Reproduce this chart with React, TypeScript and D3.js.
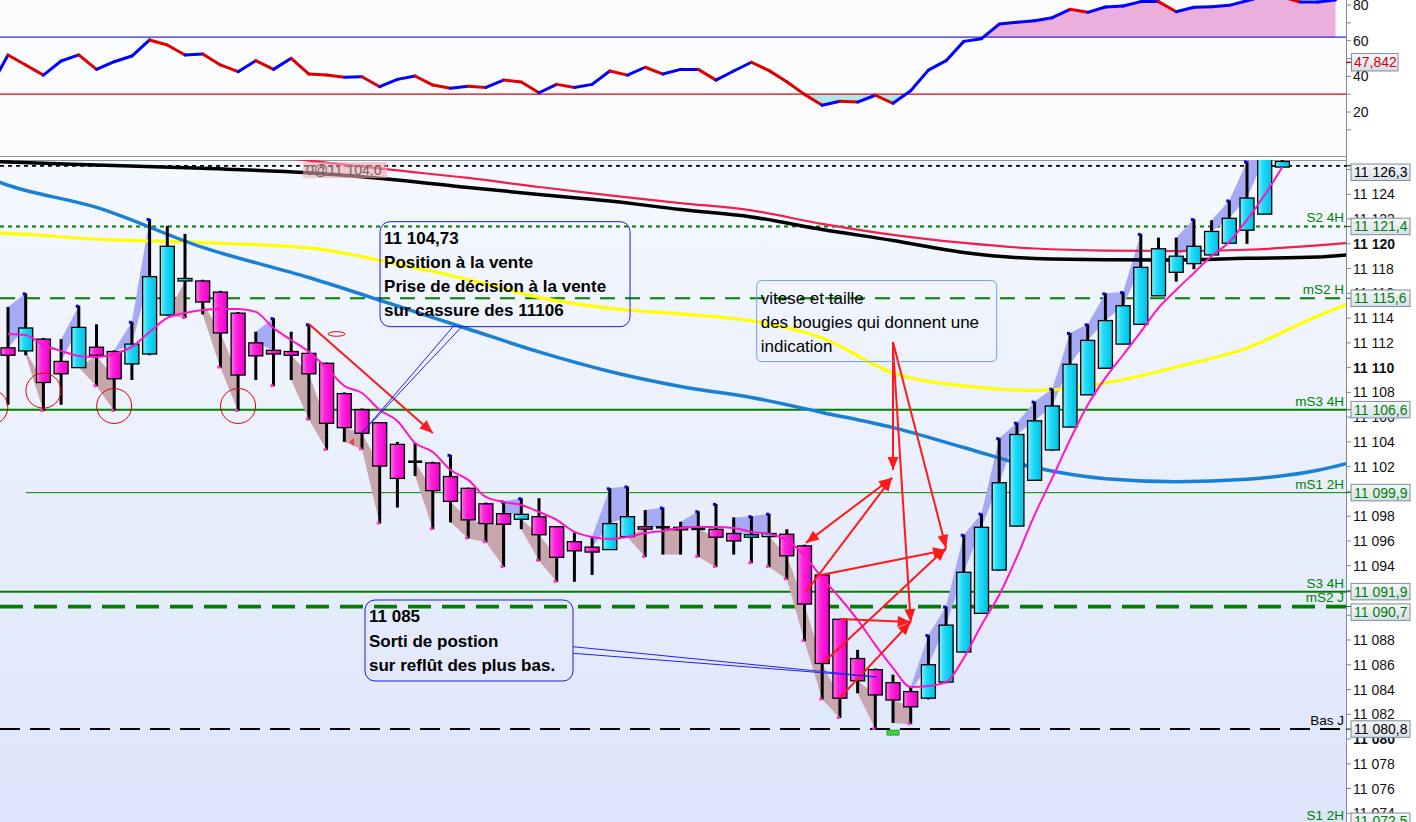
import React from "react";
import * as d3 from "d3";

// ---------------- DATA ----------------
const candleOpen = [
  11111.6, 11111.35, 11112.3, 11110.5, 11110.0, 11111.65, 11111.3, 11110.3, 11111.1, 11114.25,
  11117.0, 11117.0, 11116.1, 11114.4, 11112.0, 11111.4, 11111.3, 11111.15, 11110.35, 11107.9,
  11106.6, 11105.55, 11103.8, 11102.4, 11102.3, 11101.2, 11100.25, 11099.0, 11098.2, 11097.75,
  11097.96, 11097.15, 11095.94, 11095.5, 11095.3, 11096.35, 11097.15, 11097.1, 11097.1, 11096.97,
  11096.94, 11096.6, 11096.3, 11096.35, 11096.54, 11095.6, 11093.25, 11089.67, 11086.5, 11085.6,
  11084.55, 11083.83, 11083.3, 11084.6, 11087.03, 11090.15, 11093.65, 11097.2, 11100.9, 11103.35,
  11105.2, 11107.8, 11109.95, 11111.9, 11113.5, 11115.8, 11117.7, 11118.4, 11119.1, 11120.05,
  11121.1, 11122.4, 11126.2,
];
const candleHigh = [
  11114.9, 11116.0, 11112.4, 11112.3, 11115.0, 11113.5, 11111.4, 11113.7, 11122.0, 11121.45,
  11120.8, 11117.1, 11116.2, 11114.5, 11112.9, 11114.0, 11112.9, 11113.5, 11110.4, 11108.0,
  11106.7, 11105.6, 11104.0, 11103.9, 11102.4, 11102.95, 11100.3, 11099.1, 11099.2, 11099.45,
  11099.45, 11097.2, 11096.67, 11096.35, 11100.25, 11100.4, 11098.5, 11098.7, 11097.55, 11098.4,
  11098.99, 11097.9, 11098.0, 11098.2, 11096.94, 11095.7, 11093.3, 11089.7, 11087.2, 11085.7,
  11085.2, 11084.2, 11088.4, 11090.7, 11096.5, 11098.2, 11104.3, 11105.55, 11107.25, 11108.3,
  11112.8, 11113.5, 11116.0, 11116.1, 11120.8, 11120.5, 11120.5, 11122.0, 11121.9, 11123.5,
  11126.65, 11127.5, 11127.5,
];
const candleLow = [
  11107.0, 11111.0, 11106.5, 11107.0, 11110.0, 11108.5, 11106.5, 11109.0, 11111.0, 11114.2,
  11114.0, 11114.3, 11110.0, 11106.5, 11109.0, 11108.5, 11109.0, 11105.8, 11103.35, 11104.0,
  11103.4, 11097.4, 11098.7, 11101.25, 11096.95, 11097.5, 11096.2, 11095.9, 11093.9, 11096.95,
  11094.4, 11092.7, 11092.7, 11093.25, 11095.3, 11096.3, 11094.7, 11094.9, 11094.9, 11094.7,
  11093.9, 11094.9, 11094.2, 11093.9, 11092.9, 11087.9, 11083.2, 11081.7, 11083.7, 11080.8,
  11081.3, 11081.2, 11083.2, 11084.5, 11087.0, 11090.1, 11093.6, 11097.2, 11100.9, 11103.3,
  11105.2, 11107.8, 11109.9, 11111.9, 11113.5, 11115.8, 11116.95, 11117.95, 11119.1, 11120.0,
  11120.0, 11122.4, 11126.2,
];
const candleClose = [
  11111.0, 11113.2, 11108.8, 11109.5, 11113.25, 11111.0, 11109.1, 11111.9, 11117.35, 11119.8,
  11117.2, 11115.3, 11112.8, 11109.4, 11110.95, 11111.1, 11111.0, 11109.5, 11105.5, 11105.15,
  11104.7, 11102.05, 11101.05, 11102.4, 11100.06, 11099.2, 11097.7, 11097.4, 11097.35, 11098.15,
  11096.5, 11094.68, 11095.2, 11095.1, 11097.4, 11097.96, 11097.0, 11097.1, 11096.95, 11096.97,
  11096.3, 11096.0, 11096.5, 11096.6, 11094.8, 11090.9, 11086.1, 11083.3, 11084.7, 11083.56,
  11083.15, 11082.6, 11086.0, 11089.2, 11093.47, 11097.1, 11100.7, 11104.6, 11105.7, 11106.9,
  11110.27, 11112.2, 11113.8, 11115.0, 11118.1, 11119.6, 11119.0, 11119.8, 11121.0, 11122.06,
  11123.7, 11127.0, 11126.65,
];
// fast moving average (magenta), one value per candle
const fastMA = [
  11112.72, 11112.64, 11111.83, 11111.35, 11110.94, 11110.86, 11111.1, 11111.67, 11112.88, 11114.01,
  11114.42, 11114.66, 11114.74, 11114.74, 11114.5, 11113.2, 11112.23, 11111.27, 11109.97, 11108.52,
  11107.95, 11106.58, 11105.69, 11103.91, 11103.19, 11101.73, 11100.93, 11099.55, 11099.15, 11098.91,
  11098.34, 11097.7, 11096.73, 11096.32, 11096.16, 11096.32, 11096.64, 11096.81, 11097.05, 11097.13,
  11097.13, 11097.05, 11096.73, 11096.56, 11096.08, 11094.79, 11093.01, 11091.39, 11089.62, 11087.6,
  11085.74, 11084.2, 11084.28, 11084.6, 11086.55, 11089.21, 11091.64, 11094.71, 11098.1, 11101.09,
  11104.16, 11106.98, 11109.17, 11111.02, 11112.88, 11114.82, 11116.27, 11117.65, 11119.02, 11120.15,
  11121.93, 11123.95, 11126.21,
];
// slow moving averages, sampled at these candle indices
const maIndex = [-1, 0, 5, 11, 17, 22, 26, 30, 34, 38, 42, 46, 50, 54, 58, 62, 66, 70, 74, 76];
const maBlack = [11126.67, 11126.61, 11126.37, 11126.1, 11125.74, 11125.16, 11124.55, 11123.99, 11123.46, 11122.77, 11122.17, 11121.16, 11120.27, 11119.3, 11118.81, 11118.71, 11118.7, 11118.83, 11118.93, 11119.14];
const maRed = [11129.6, 11129.44, 11128.63, 11127.68, 11126.72, 11125.93, 11125.32, 11124.59, 11123.91, 11123.29, 11122.7, 11121.61, 11120.72, 11120.07, 11119.62, 11119.45, 11119.42, 11119.52, 11119.87, 11120.11];
const maYellow = [11120.88, 11120.84, 11120.38, 11120.09, 11119.67, 11118.37, 11117.12, 11115.67, 11114.78, 11114.34, 11113.77, 11112.4, 11109.57, 11108.52, 11108.15, 11108.76, 11110.05, 11111.59, 11114.17, 11115.3];
const maBlue = [11125.24, 11124.73, 11122.94, 11119.71, 11117.28, 11114.98, 11113.12, 11111.27, 11109.69, 11108.48, 11107.59, 11106.38, 11105.15, 11103.55, 11101.93, 11101.03, 11100.79, 11100.99, 11101.71, 11102.38];

// RSI, starting at candle index -1
const rsiStart = -1;
const rsiValues = [
  33.7,
  52.0, 46.4, 40.7, 48.6, 52.0, 43.9, 48.2, 51.4, 60.4, 57.6,
  52.0, 52.5, 46.4, 42.6, 48.8, 43.9, 50.1, 41.3, 40.7, 39.5,
  39.8, 34.2, 38.3, 40.2, 35.1, 33.3, 34.4, 33.8, 37.9, 36.8,
  30.8, 35.5, 33.8, 35.5, 43.0, 40.7, 45.1, 41.3, 43.9, 43.9,
  37.9, 43.0, 47.9, 43.2, 37.0, 29.9, 23.8, 26.0, 25.6, 29.4,
  24.9, 31.9, 43.5, 48.8, 59.6, 61.1, 69.3, 70.3, 71.2, 72.9,
  77.6, 75.9, 78.9, 79.4, 81.9, 81.9, 76.2, 78.7, 79.0, 79.8,
  82.4, 85.0, 84.5, 81.7, 81.7, 82.8,
];
const rsiLast = 47.842;
const rsiUpper = 62;
const rsiLower = 30;
const rsiTicks = [10, 20, 30, 40, 50, 60, 70, 80];
const rsiTickLabels = [20, 40, 60, 80];

// price axis
const priceTicks = d3.range(11074, 11128, 2);

// horizontal levels
const levelNames = ["", "S2 4H", "mS2 H", "mS3 4H", "mS1 2H", "S3 4H", "mS2 J", "Bas J", "S1 2H"];
const levelValues = [11126.3, 11121.4, 11115.6, 11106.6, 11099.9, 11091.9, 11090.7, 11080.8, 11072.5];
const levelStartIdx = [-2, -2, -2, -2, 1, -2, -2, -2, -2];

// annotations (anchored in candle index / price)
const noteSellLines = ["11 104,73", "Position à la vente", "Prise de décision à la vente", "sur cassure des 11106"];
const noteExitLines = ["11 085", "Sorti de postion", "sur reflût des plus bas."];
const noteSpeedLines = ["vitese et taille", "des bougies qui donnent une", "indication"];
const noteSellAnchor = [21.02, 11121.79];
const noteSellTarget = [19.98, 11104.7];
const noteExitAnchor = [20.17, 11091.23];
const noteExitTarget = [49.1, 11085.01];
const noteSpeedAnchor = [42.3, 11117.03];

const arrowFromIdx = [17.0, 50.0, 50.0, 50.0, 45.08, 45.08, 45.93, 46.05, 47.0, 47.0];
const arrowFromPrice = [11113.53, 11112.07, 11111.67, 11112.07, 11095.84, 11091.88, 11093.25, 11086.14, 11089.7, 11083.32];
const arrowToIdx = [24.0, 50.0, 51.0, 53.0, 49.94, 49.94, 53.0, 53.0, 51.0, 51.0];
const arrowToPrice = [11104.72, 11101.73, 11089.45, 11095.43, 11101.09, 11101.09, 11095.27, 11095.43, 11089.45, 11089.45];
const arrowBoth = [false, false, false, false, true, false, false, false, false, false];

const circleIdx = [-1, 2, 6, 13];
const circlePrice = [11106.8, 11108.14, 11106.9, 11106.9];

const positionTag = "0@11 104,0";
const positionTagAnchor = [16.67, 11126.6];
const lowMarkerIdx = 50;
const lowMarkerPrice = 11080.8;

const FONT = "'Liberation Sans', Arial, Helvetica, sans-serif";

export default function App() {
  const W = 1416;
  const H = 822;
  const plotR = 1346;
  const rsiBottom = 157;
  const mainTop = 160;

  const x = d3.scaleLinear().domain([0, 72]).range([8, 8 + 72 * 17.7]);
  const y = d3.scaleLinear().domain([11124, 11074]).range([194.3, 813.3]);
  const yr = d3.scaleLinear().domain([80, 0]).range([5, 147.7]);

  const loc = d3.formatLocale({ decimal: ",", thousands: " ", grouping: [3], currency: ["", ""] });
  const fmtTick = loc.format(",d");
  const fmtLevel = loc.format(",.1f");
  const fmtRsi = loc.format(".3f");

  const maPath = (vals: number[]) =>
    d3.line<number>().x((_, k) => x(maIndex[k])).y((v) => y(v)).curve(d3.curveMonotoneX)(vals) || "";
  const fastPath =
    d3.line<number>().x((_, i) => x(i)).y((v) => y(v)).curve(d3.curveMonotoneX)(fastMA) || "";

  const rsiX = (k: number) => x(k + rsiStart);
  const rsiArea = (lvl: number) =>
    d3.area<number>().x((_, k) => rsiX(k)).y0(yr(lvl)).y1((v) => yr(v))(rsiValues) || "";

  // level label boxes with collision avoidance
  const order = levelValues.map((v, i) => ({ i, cy: y(v), top: 0 })).sort((a, b) => a.cy - b.cy);
  let prevBottom = -Infinity;
  order.forEach((b) => {
    let top = b.cy - 8.3;
    if (top < 164) top = 164;
    if (top < prevBottom + 4) top = prevBottom + 4;
    if (top > 813) top = 813;
    b.top = top;
    prevBottom = top + 16.5;
  });
  const boxTop: number[] = [];
  order.forEach((b) => (boxTop[b.i] = b.top));

  const levelStyle = (i: number) => {
    const name = levelNames[i];
    if (i === 0) return { stroke: "#000", w: 1.6, dash: "4,4" };
    if (name === "Bas J") return { stroke: "#000", w: 2, dash: "20,10" };
    if (name === "S2 4H") return { stroke: "#008000", w: 2, dash: "4,4" };
    if (name === "mS2 H") return { stroke: "#008000", w: 2, dash: "15,10" };
    if (name === "mS2 J") return { stroke: "#008000", w: 3.8, dash: "23,11" };
    if (name === "mS1 2H") return { stroke: "#008000", w: 1, dash: undefined };
    return { stroke: "#008000", w: 2, dash: undefined };
  };

  const arrowHead = (px: number, py: number, a: number) => {
    const L = 13, Wd = 5.5;
    const bx = px - L * Math.cos(a), by = py - L * Math.sin(a);
    return `${px},${py} ${bx + Wd * Math.sin(a)},${by - Wd * Math.cos(a)} ${bx - Wd * Math.sin(a)},${by + Wd * Math.cos(a)}`;
  };

  const sellX = x(noteSellAnchor[0]), sellY = y(noteSellAnchor[1]);
  const exitX = x(noteExitAnchor[0]), exitY = y(noteExitAnchor[1]);
  const speedX = x(noteSpeedAnchor[0]), speedY = y(noteSpeedAnchor[1]);

  return (
    <svg
      width={W}
      height={H}
      style={{ position: "absolute", left: 0, top: 0, display: "block", background: "#fff" }}
      fontFamily={FONT}
    >
      <defs>
        <linearGradient id="gMain" x1="0" y1="0" x2="0" y2="1">
          <stop offset="0" stopColor="#f5f8fe" />
          <stop offset="1" stopColor="#dce5fa" />
        </linearGradient>
        <linearGradient id="gPink" x1="0" y1="0" x2="1" y2="0">
          <stop offset="0" stopColor="#ff7aea" />
          <stop offset="0.35" stopColor="#ff26dc" />
          <stop offset="1" stopColor="#ec00c6" />
        </linearGradient>
        <linearGradient id="gCyan" x1="0" y1="0" x2="1" y2="0">
          <stop offset="0" stopColor="#86f2ff" />
          <stop offset="0.35" stopColor="#22dcf8" />
          <stop offset="1" stopColor="#00bfe3" />
        </linearGradient>
        <linearGradient id="gBox" x1="0" y1="0" x2="0" y2="1">
          <stop offset="0" stopColor="#f6f8fb" />
          <stop offset="1" stopColor="#d7dfea" />
        </linearGradient>
        <clipPath id="clipMain">
          <rect x={0} y={mainTop} width={plotR} height={H - mainTop} />
        </clipPath>
        <clipPath id="clipRsi">
          <rect x={0} y={0} width={plotR} height={rsiBottom} />
        </clipPath>
        <clipPath id="clipAbove">
          <rect x={0} y={0} width={plotR} height={yr(rsiUpper)} />
        </clipPath>
        <clipPath id="clipBelow">
          <rect x={0} y={yr(rsiLower)} width={plotR} height={rsiBottom - yr(rsiLower)} />
        </clipPath>
      </defs>

      {/* backgrounds */}
      <rect x={0} y={0} width={plotR} height={rsiBottom} fill="#fbfcfe" />
      <rect x={0} y={mainTop} width={plotR} height={H - mainTop} fill="url(#gMain)" />
      <line x1={0} x2={plotR} y1={rsiBottom - 0.5} y2={rsiBottom - 0.5} stroke="#8a96a3" strokeWidth={1} />
      <line x1={0} x2={plotR} y1={mainTop + 0.5} y2={mainTop + 0.5} stroke="#8a96a3" strokeWidth={1} />

      {/* ---------- RSI panel ---------- */}
      <g clipPath="url(#clipRsi)">
        <g clipPath="url(#clipAbove)">
          <path d={rsiArea(rsiUpper)} fill="#ebaedd" />
        </g>
        <g clipPath="url(#clipBelow)">
          <path d={rsiArea(rsiLower)} fill="#ade9ec" />
        </g>
        <line x1={0} x2={plotR} y1={yr(rsiUpper)} y2={yr(rsiUpper)} stroke="#2a2ad0" strokeWidth={1.3} />
        <line x1={0} x2={plotR} y1={yr(rsiLower)} y2={yr(rsiLower)} stroke="#dd0000" strokeWidth={1.3} />
        {rsiValues.slice(1).map((v, k) => {
          const prev = rsiValues[k];
          return (
            <line
              key={k}
              x1={rsiX(k)}
              y1={yr(prev)}
              x2={rsiX(k + 1)}
              y2={yr(v)}
              stroke={v >= prev ? "#0000ff" : "#dd0000"}
              strokeWidth={3}
              strokeLinecap="round"
            />
          );
        })}
      </g>

      {/* ---------- Main panel ---------- */}
      <g clipPath="url(#clipMain)">
        {/* levels */}
        {levelValues.map((v, i) => {
          const s = levelStyle(i);
          return (
            <line
              key={i}
              x1={levelStartIdx[i] < 0 ? 0 : x(levelStartIdx[i])}
              x2={plotR}
              y1={y(v)}
              y2={y(v)}
              stroke={s.stroke}
              strokeWidth={s.w}
              strokeDasharray={s.dash}
            />
          );
        })}

        {/* swing shading */}
        {candleOpen.map((o, i) => {
          if (i === 0) return null;
          const c = candleClose[i];
          const po = candleOpen[i - 1], pc = candleClose[i - 1];
          const els: React.ReactNode[] = [];
          if (candleHigh[i] >= candleHigh[i - 1] && c >= pc) {
            const pts = [
              [x(i - 1), y(candleHigh[i - 1])],
              [x(i), y(candleHigh[i])],
              [x(i), y(Math.max(o, c))],
              [x(i - 1), y(Math.max(po, pc))],
            ];
            els.push(<polygon key="u" points={pts.map((p) => p.join(",")).join(" ")} fill="#a6aaf4" />);
          }
          if (candleLow[i] <= candleLow[i - 1] && c <= pc) {
            const pts = [
              [x(i - 1), y(Math.min(po, pc))],
              [x(i), y(Math.min(o, c))],
              [x(i), y(candleLow[i])],
              [x(i - 1), y(candleLow[i - 1])],
            ];
            els.push(<polygon key="d" points={pts.map((p) => p.join(",")).join(" ")} fill="#c8a6ae" />);
          }
          return <g key={i}>{els}</g>;
        })}

        {/* moving averages */}
        <path d={maPath(maYellow)} fill="none" stroke="#ffff00" strokeWidth={3.2} />
        <path d={maPath(maBlue)} fill="none" stroke="#1a80d6" strokeWidth={3.5} />
        <path d={maPath(maRed)} fill="none" stroke="#f0204a" strokeWidth={2.2} />
        <path d={maPath(maBlack)} fill="none" stroke="#000" strokeWidth={3.5} />

        {/* candles */}
        {candleOpen.map((o, i) => {
          const c = candleClose[i];
          const cx = x(i);
          const top = y(Math.max(o, c));
          const bot = y(Math.min(o, c));
          const flat = o === c;
          return (
            <g key={i}>
              <line x1={cx} x2={cx} y1={y(candleHigh[i])} y2={y(candleLow[i])} stroke="#000" strokeWidth={3} />
              {flat ? (
                <line x1={cx - 7} x2={cx + 7} y1={top} y2={top} stroke="#000" strokeWidth={2.5} />
              ) : (
                <rect
                  x={cx - 7}
                  y={top}
                  width={14}
                  height={Math.max(bot - top, 2.5)}
                  fill={c > o ? "url(#gCyan)" : "url(#gPink)"}
                  stroke="#000"
                  strokeWidth={1.3}
                />
              )}
              {i > 0 && candleHigh[i] > candleHigh[i - 1] && (
                <rect x={cx - 3} y={y(candleHigh[i]) - 1} width={3} height={3} fill="#0000e6" />
              )}
              {i > 0 && candleLow[i] < candleLow[i - 1] && (
                <rect x={cx - 3} y={y(candleLow[i]) - 2} width={3} height={3} fill="#ff33cc" />
              )}
            </g>
          );
        })}

        {/* fast MA on top */}
        <path d={fastPath} fill="none" stroke="#ff14c8" strokeWidth={2} />

        {/* circles */}
        {circleIdx.map((ci, k) => (
          <circle key={k} cx={x(ci)} cy={y(circlePrice[k])} r={17.5} fill="none" stroke="#e00000" strokeWidth={1} />
        ))}
        <ellipse cx={x(18.56)} cy={y(11112.72)} rx={8.5} ry={2.3} fill="none" stroke="#e00000" strokeWidth={1} />
        <polygon
          points={`${x(19.44) - 3},${y(11104.0)} ${x(19.44) + 2},${y(11104.0) - 4} ${x(19.44) + 2},${y(11104.0) + 4}`}
          fill="#f04040"
        />

        {/* low marker */}
        <rect
          x={x(lowMarkerIdx) - 6}
          y={y(lowMarkerPrice) + 1}
          width={12}
          height={5}
          fill="#44cc44"
          stroke="#1d9a1d"
          strokeWidth={0.8}
        />

        {/* position tag */}
        <rect
          x={x(positionTagAnchor[0])}
          y={y(positionTagAnchor[1])}
          width={84}
          height={16}
          fill="#f2a8b0"
          fillOpacity={0.6}
        />
        <text x={x(positionTagAnchor[0]) + 3} y={y(positionTagAnchor[1]) + 13} fontSize={14} fill="#666">
          {positionTag}
        </text>

        {/* arrows */}
        {arrowFromIdx.map((fi, k) => {
          const x1 = x(fi), y1 = y(arrowFromPrice[k]);
          const x2 = x(arrowToIdx[k]), y2 = y(arrowToPrice[k]);
          const a = Math.atan2(y2 - y1, x2 - x1);
          return (
            <g key={k}>
              <line x1={x1} y1={y1} x2={x2} y2={y2} stroke="#ff1a1a" strokeWidth={2} />
              <polygon points={arrowHead(x2, y2, a)} fill="#ff1a1a" />
              {arrowBoth[k] && <polygon points={arrowHead(x1, y1, a + Math.PI)} fill="#ff1a1a" />}
            </g>
          );
        })}

        {/* note: sell */}
        <rect x={sellX} y={sellY} width={250} height={105} rx={10} fill="none" stroke="#1a1aee" strokeWidth={1} />
        <line x1={sellX + 73} y1={sellY + 105} x2={x(noteSellTarget[0])} y2={y(noteSellTarget[1])} stroke="#2222ee" strokeWidth={1} />
        <line x1={sellX + 81.7} y1={sellY + 105} x2={x(noteSellTarget[0])} y2={y(noteSellTarget[1])} stroke="#2222ee" strokeWidth={1} />
        {noteSellLines.map((t, k) => (
          <text key={k} x={sellX + 4} y={sellY + 22.5 + k * 24} fontSize={17} fontWeight="bold" fill="#000">
            {t}
          </text>
        ))}

        {/* note: exit */}
        <rect x={exitX} y={exitY} width={208} height={81} rx={10} fill="none" stroke="#1a1aee" strokeWidth={1} />
        <line x1={exitX + 208} y1={exitY + 46.7} x2={x(noteExitTarget[0])} y2={y(noteExitTarget[1])} stroke="#2222ee" strokeWidth={1} />
        <line x1={exitX + 208} y1={exitY + 53.3} x2={x(noteExitTarget[0])} y2={y(noteExitTarget[1])} stroke="#2222ee" strokeWidth={1} />
        {noteExitLines.map((t, k) => (
          <text key={k} x={exitX + 4} y={exitY + 22.5 + k * 24.2} fontSize={17} fontWeight="bold" fill="#000">
            {t}
          </text>
        ))}

        {/* note: speed */}
        <rect x={speedX} y={speedY} width={240} height={81} rx={5} fill="none" stroke="#6e9ff2" strokeWidth={1} />
        {noteSpeedLines.map((t, k) => (
          <text key={k} x={speedX + 4} y={speedY + 23.5 + k * 23.8} fontSize={17} fill="#000">
            {t}
          </text>
        ))}
      </g>

      {/* level names (inside plot, right) */}
      {levelValues.map((v, i) =>
        levelNames[i] ? (
          <text
            key={i}
            x={plotR - 2}
            y={Math.min(y(v) - 3 - levelStyle(i).w / 2, 820)}
            fontSize={13.5}
            textAnchor="end"
            fill={levelNames[i] === "Bas J" ? "#000" : "#008000"}
          >
            {levelNames[i]}
          </text>
        ) : null
      )}

      {/* ---------- Axis ---------- */}
      <rect x={plotR + 1} y={0} width={W - plotR - 1} height={H} fill="#ffffff" />
      <line x1={plotR + 0.5} x2={plotR + 0.5} y1={0} y2={H} stroke="#7d8a97" strokeWidth={1} />

      {rsiTicks.map((t) => (
        <line key={t} x1={plotR} x2={plotR + 5} y1={yr(t)} y2={yr(t)} stroke="#7d8a97" strokeWidth={1} />
      ))}
      {rsiTickLabels.map((t) => (
        <text key={t} x={plotR + 7} y={yr(t) + 5} fontSize={14} fill="#111">
          {t}
        </text>
      ))}
      <line x1={plotR} x2={plotR + 6} y1={yr(rsiLast)} y2={yr(rsiLast)} stroke="#dd0000" strokeWidth={1.5} />
      <rect x={plotR + 5.5} y={yr(rsiLast) - 8.8} width={46.5} height={17.4} fill="url(#gBox)" stroke="#7c8c9c" strokeWidth={1} />
      <text x={plotR + 8} y={yr(rsiLast) + 5} fontSize={14} fill="#d00000">
        {fmtRsi(rsiLast)}
      </text>

      {priceTicks.map((t) => (
        <g key={t}>
          <line x1={plotR} x2={plotR + 5} y1={y(t)} y2={y(t)} stroke="#7d8a97" strokeWidth={1} />
          <text
            x={plotR + 7}
            y={y(t) + 5}
            fontSize={14}
            fill="#111"
            fontWeight={t % 10 === 0 ? "bold" : "normal"}
          >
            {fmtTick(t)}
          </text>
        </g>
      ))}

      {levelValues.map((v, i) => {
        const top = boxTop[i];
        const dark = i === 0 || levelNames[i] === "Bas J";
        return (
          <g key={i}>
            <line x1={plotR} x2={plotR + 6} y1={y(v)} y2={y(v)} stroke={dark ? "#000" : "#008000"} strokeWidth={1} />
            <rect x={plotR + 5} y={top} width={59} height={16.5} fill="url(#gBox)" stroke="#7c8c9c" strokeWidth={1} />
            <text x={plotR + 8} y={top + 13.3} fontSize={14} fill={dark ? "#000" : "#008000"}>
              {fmtLevel(v)}
            </text>
          </g>
        );
      })}
    </svg>
  );
}
